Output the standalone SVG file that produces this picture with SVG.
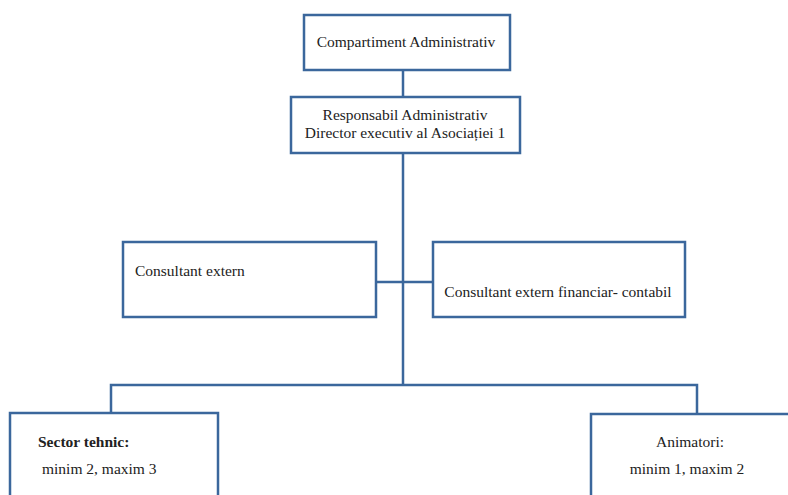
<svg xmlns="http://www.w3.org/2000/svg" width="788" height="495" viewBox="0 0 788 495">
<style>
.box{fill:#fff;stroke:#3b679c;stroke-width:2.5}
.ln{fill:none;stroke:#3b679c;stroke-width:2.5}
text{font-family:"Liberation Serif","Times New Roman",serif;font-size:15.5px;fill:#222}
.c{text-anchor:middle}
</style>
<rect width="788" height="495" fill="#fff"/>
<g id="connectors">
<line class="ln" x1="403" y1="70" x2="403" y2="97"/>
<line class="ln" x1="403" y1="153" x2="403" y2="385"/>
<line class="ln" x1="376" y1="282" x2="433" y2="282"/>
<polyline class="ln" points="111,413 111,385 697,385 697,414"/>
</g>
<g id="compartiment">
<rect class="box" x="304" y="15" width="206" height="55"/>
<text class="c" x="406" y="47">Compartiment Administrativ</text>
</g>
<g id="responsabil">
<rect class="box" x="291" y="97" width="229" height="56"/>
<text class="c" x="405" y="120">Responsabil Administrativ</text>
<text class="c" x="405" y="138">Director executiv al Asociației 1</text>
</g>
<g id="consultant">
<rect class="box" x="123" y="242" width="253" height="75"/>
<text x="135" y="276">Consultant extern</text>
</g>
<g id="consultant-financiar">
<rect class="box" x="433" y="242" width="252" height="75"/>
<text class="c" x="558" y="297">Consultant extern financiar- contabil</text>
</g>
<g id="sector-tehnic">
<rect class="box" x="10" y="413" width="208" height="95"/>
<text x="38" y="447" font-weight="bold" fill="#444">Sector tehnic:</text>
<text x="42" y="474">minim 2, maxim 3</text>
</g>
<g id="animatori">
<rect class="box" x="591" y="414" width="210" height="95"/>
<text class="c" x="690" y="447">Animatori:</text>
<text class="c" x="687" y="474">minim 1, maxim 2</text>
</g>
</svg>
